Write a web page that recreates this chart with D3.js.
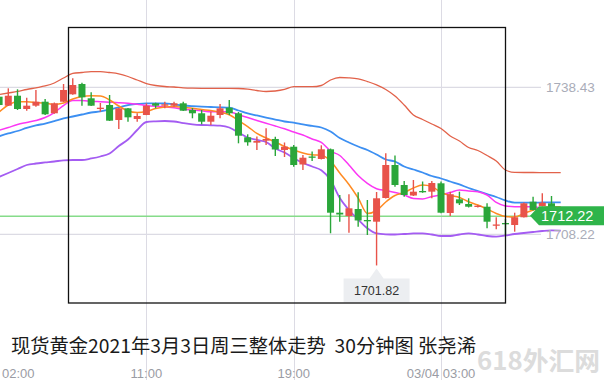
<!DOCTYPE html>
<html><head><meta charset="utf-8">
<script src="https://cdn.jsdelivr.net/npm/d3@7"></script>
<style>html,body{margin:0;padding:0;background:#fff;overflow:hidden}svg{display:block}</style>
</head><body><svg id="c" width="606" height="380"></svg>
<script>
// ---- data (XAUUSD 30-minute candles) ----
const opens = [1736.50,1734.65,1736.70,1733.97,1734.65,1735.47,1733.09,1735.47,1736.99,1739.11,1736.17,1733.97,1734.79,1731.71,1734.11,1731.92,1732.74,1735.14,1734.65,1734.65,1735.14,1733.77,1733.09,1731.36,1732.74,1734.24,1733.09,1728.16,1727.05,1727.46,1727.81,1725.55,1726.22,1722.57,1724.21,1723.70,1725.69,1712.66,1711.98,1713.42,1711.16,1710.81,1715.68,1722.46,1718.35,1716.19,1717.12,1716.98,1718.70,1712.60,1715.41,1714.45,1713.89,1713.89,1710.03,1710.54,1710.13,1711.72,1714.92,1714.04,1714.59];
const closes = [1734.79,1736.70,1733.97,1734.65,1735.47,1732.88,1735.14,1737.88,1738.90,1736.37,1734.65,1734.24,1731.57,1734.11,1732.26,1732.53,1734.65,1734.65,1734.94,1735.14,1733.62,1733.09,1731.36,1732.59,1734.11,1733.09,1728.48,1727.13,1727.39,1727.81,1725.65,1726.22,1722.46,1723.96,1723.96,1725.69,1712.66,1712.29,1713.56,1711.06,1710.95,1715.62,1722.46,1718.35,1716.30,1716.98,1716.85,1718.76,1712.66,1716.46,1714.59,1713.89,1714.10,1710.81,1710.24,1710.34,1711.72,1714.59,1713.22,1714.72,1713.36];
const highs = [1736.85,1738.22,1738.02,1736.29,1737.88,1736.03,1735.30,1739.11,1740.28,1739.38,1737.40,1735.20,1736.85,1734.20,1734.18,1733.09,1735.14,1735.27,1735.47,1735.47,1735.47,1734.18,1733.77,1733.42,1735.00,1735.82,1733.35,1728.77,1728.32,1730.00,1728.28,1727.09,1726.57,1724.52,1725.24,1726.51,1725.85,1716.30,1716.44,1716.85,1715.27,1716.91,1724.87,1724.42,1719.17,1719.38,1719.07,1719.17,1719.07,1716.98,1716.98,1715.62,1714.24,1714.59,1711.72,1711.37,1712.66,1714.76,1715.95,1716.65,1716.09];
const lows = [1734.38,1734.59,1733.77,1733.62,1734.44,1732.74,1733.00,1735.40,1736.90,1734.65,1734.59,1733.42,1731.50,1729.86,1731.36,1731.36,1732.70,1734.11,1734.11,1734.44,1733.56,1732.06,1730.83,1730.68,1732.06,1732.74,1726.92,1726.43,1725.55,1726.57,1724.31,1724.11,1722.11,1721.44,1723.28,1723.60,1708.43,1710.81,1708.55,1709.78,1708.08,1701.82,1715.58,1718.00,1715.95,1716.09,1716.75,1715.62,1712.54,1711.98,1714.24,1713.73,1713.73,1709.45,1709.25,1708.08,1708.76,1711.68,1713.11,1713.93,1713.32];

// Bollinger bands and moving averages (one value per bar, plus one step beyond)
const upperBand = [1736.95,1737.26,1737.57,1737.98,1738.33,1738.70,1739.31,1740.34,1741.27,1741.47,1741.64,1741.64,1741.47,1741.20,1740.65,1739.93,1739.21,1738.80,1738.59,1738.49,1738.33,1738.25,1738.22,1738.22,1738.22,1738.22,1738.18,1738.04,1737.77,1737.57,1737.67,1737.98,1738.55,1738.55,1738.55,1738.80,1739.93,1740.44,1740.38,1740.18,1739.62,1738.94,1737.98,1736.64,1734.79,1732.74,1731.81,1730.89,1729.96,1728.42,1727.39,1726.06,1725.44,1724.42,1723.28,1721.44,1720.94,1720.92,1720.92,1720.90,1720.88,1720.88];
const midBand = [1728.36,1728.94,1729.45,1730.07,1730.58,1730.99,1731.50,1732.02,1732.43,1732.84,1733.25,1733.46,1733.87,1734.28,1734.79,1735.00,1735.14,1735.14,1735.14,1734.90,1734.69,1734.55,1734.44,1734.38,1734.32,1734.24,1733.66,1733.09,1732.64,1732.22,1731.81,1731.40,1731.16,1730.79,1730.48,1730.17,1729.35,1728.01,1727.09,1726.26,1725.55,1724.62,1723.59,1723.18,1722.15,1721.54,1720.92,1720.20,1719.69,1719.07,1718.46,1717.74,1717.12,1716.50,1715.89,1715.17,1714.72,1714.72,1714.72,1714.76,1714.80,1714.80];
const lowerBand = [1720.00,1720.82,1721.64,1722.46,1722.77,1722.98,1723.18,1723.43,1723.49,1723.49,1723.80,1724.21,1724.83,1726.37,1727.70,1729.66,1731.30,1731.44,1731.50,1731.40,1731.09,1730.83,1730.68,1730.62,1730.54,1730.17,1729.14,1728.11,1727.60,1727.19,1725.85,1725.03,1723.90,1722.87,1722.15,1721.37,1719.38,1715.68,1713.22,1711.26,1709.45,1708.39,1708.22,1708.18,1708.28,1708.39,1708.43,1708.18,1707.87,1707.87,1708.18,1708.39,1708.18,1707.87,1707.73,1707.98,1708.28,1708.49,1708.69,1708.90,1709.04,1708.96];
const maFast = [1733.35,1734.79,1735.47,1735.47,1735.31,1735.14,1734.90,1735.20,1736.03,1736.54,1736.68,1736.64,1735.82,1734.59,1733.56,1733.25,1733.46,1734.07,1734.38,1734.48,1734.28,1734.11,1733.87,1733.66,1733.35,1732.78,1731.61,1730.37,1728.94,1728.01,1727.19,1726.26,1725.55,1724.93,1724.56,1724.46,1723.28,1720.82,1718.46,1715.68,1712.50,1713.11,1714.86,1716.19,1716.81,1717.74,1718.35,1718.04,1716.81,1716.19,1715.78,1714.92,1714.24,1713.42,1712.50,1711.88,1711.78,1712.50,1713.22,1713.73,1713.89,1713.89];
const maSlow = [1729.59,1730.17,1730.78,1731.20,1731.61,1732.22,1733.25,1734.69,1735.72,1735.72,1735.57,1735.47,1735.37,1735.27,1735.14,1734.94,1734.69,1734.53,1734.44,1734.22,1733.93,1733.77,1733.60,1733.42,1733.42,1733.42,1732.80,1732.22,1731.61,1731.03,1730.48,1729.90,1729.24,1728.63,1727.81,1727.09,1725.34,1724.42,1722.46,1720.31,1718.70,1717.59,1717.22,1716.81,1716.30,1715.58,1715.48,1715.99,1716.30,1716.81,1717.33,1717.12,1716.98,1716.30,1714.76,1714.04,1713.89,1713.89,1713.89,1713.52,1713.11,1712.87];

const axisValues = [1738.43, 1708.22];
const lastPrice = 1712.22;
const lowPrice = 1701.82;
const lowIndex = 41;
const timeLabels = ["02:00", "11:00", "19:00", "03/04 03:00"];
const timeIndex = [-2, 16, 32, 48];
const titleText = "现货黄金2021年3月3日周三整体走势  30分钟图 张尧浠";
const watermarkText = "618外汇网";

// ---- drawing ----
const W = 606, H = 380;
const svg = d3.select("#c");
const x = d3.scaleLinear().domain([0, 60]).range([-0.9, 551.5]);
const y = d3.scaleLinear().domain([1708.22, 1738.43]).range([234.3, 87.3]);
const RED = "#e8534a", GREEN = "#2aa63a", GRID = "#dcdbe4";

// watermark text
svg.append("text").attr("x", 477).attr("y", 370)
  .attr("font-family", "'Noto Sans CJK SC', sans-serif").attr("font-weight", "bold")
  .attr("font-size", 25).attr("fill", "#dcdcdc")
  .attr("textLength", 123).attr("lengthAdjust", "spacingAndGlyphs").text(watermarkText);

// vertical grid lines at time ticks (excluding clamped first label)
svg.append("g").selectAll("line").data(timeIndex.filter(d => d >= 0)).join("line")
  .attr("x1", d => Math.round(x(d)) + 0.5).attr("x2", d => Math.round(x(d)) + 0.5)
  .attr("y1", 0).attr("y2", H).attr("stroke", GRID).attr("stroke-width", 1);

// horizontal grid lines at axis values
svg.append("g").selectAll("line").data(axisValues).join("line")
  .attr("x1", 0).attr("x2", 541)
  .attr("y1", d => y(d)).attr("y2", d => y(d)).attr("stroke", GRID).attr("stroke-width", 1.2);

// last price line
svg.append("line").attr("x1", 0).attr("x2", 532).attr("y1", y(lastPrice) + 1.5).attr("y2", y(lastPrice) + 1.5)
  .attr("stroke", "#86dc8a").attr("stroke-width", 1.5);

// indicator lines
const lineGen = d3.line().x((d, i) => x(i)).y(d => y(d)).curve(d3.curveMonotoneX);
const series = [
  [upperBand, "#e2624a", 1.3],
  [lowerBand, "#a45cf2", 1.8],
  [midBand, "#3c8ff2", 1.8],
  [maSlow, "#fb37f4", 1.5],
  [maFast, "#ff8b22", 1.5]
];
svg.append("g").selectAll("path").data(series).join("path")
  .attr("d", d => lineGen(d[0])).attr("fill", "none")
  .attr("stroke", d => d[1]).attr("stroke-width", d => d[2]);

// candles
const idx = d3.range(opens.length);
const cg = svg.append("g");
cg.selectAll("line").data(idx).join("line")
  .attr("x1", i => x(i)).attr("x2", i => x(i))
  .attr("y1", i => y(highs[i])).attr("y2", i => y(lows[i]))
  .attr("stroke", i => closes[i] >= opens[i] ? RED : GREEN).attr("stroke-width", 1.4);
cg.selectAll("rect").data(idx).join("rect")
  .attr("x", i => x(i) - 3.5).attr("width", 7)
  .attr("y", i => y(Math.max(opens[i], closes[i])))
  .attr("height", i => Math.max(1.3, Math.abs(y(opens[i]) - y(closes[i]))))
  .attr("fill", i => closes[i] >= opens[i] ? RED : GREEN);

// right axis labels
svg.append("g").selectAll("text").data(axisValues).join("text")
  .attr("x", 546).attr("y", d => y(d) + 5)
  .attr("font-family", "'Liberation Sans', Arial, sans-serif").attr("font-size", 13.5)
  .attr("fill", "#a9acb8").text(d => d.toFixed(2));

// last price tag
const ly = y(lastPrice) + 0.8;
svg.append("path")
  .attr("d", `M530,${ly} L539,${ly - 9.5} L604,${ly - 9.5} L604,${ly + 9.5} L539,${ly + 9.5} Z`)
  .attr("fill", "#2fb44a");
svg.append("text").attr("x", 541).attr("y", ly + 5.2)
  .attr("font-family", "'Liberation Sans', Arial, sans-serif").attr("font-size", 14.5)
  .attr("fill", "#fff").text(lastPrice.toFixed(2));

// low marker
const lx = x(lowIndex), lyy = y(lowPrice);
svg.append("path")
  .attr("d", `M${lx - 33},${lyy + 13} L${lx - 7},${lyy + 13} L${lx},${lyy + 3} L${lx + 7},${lyy + 13} L${lx + 33},${lyy + 13} L${lx + 33},${lyy + 37} L${lx - 33},${lyy + 37} Z`)
  .attr("fill", "#eceef1");
svg.append("text").attr("x", lx).attr("y", lyy + 30).attr("text-anchor", "middle")
  .attr("font-family", "'Liberation Sans', Arial, sans-serif").attr("font-size", 12.5)
  .attr("fill", "#333").text(lowPrice.toFixed(2));

// annotation frame
svg.append("rect").attr("x", 68.5).attr("y", 27.5).attr("width", 437).attr("height", 275.5)
  .attr("fill", "none").attr("stroke", "#111").attr("stroke-width", 1.3);

// time axis labels
svg.append("g").selectAll("text").data(timeIndex).join("text")
  .attr("x", (d, i) => x(d) < 20 ? 2 : x(d))
  .attr("text-anchor", d => x(d) < 20 ? "start" : "middle")
  .attr("y", 378)
  .attr("font-family", "'Liberation Sans', Arial, sans-serif").attr("font-size", 13)
  .attr("fill", "#9a9ca4").text((d, i) => timeLabels[i]);

// title
svg.append("text").attr("x", 11).attr("y", 353)
  .attr("font-family", "'Noto Sans CJK SC', sans-serif").attr("font-size", 19.3)
  .attr("fill", "#1a1a1a").style("white-space", "pre").text(titleText);
</script></body></html>
